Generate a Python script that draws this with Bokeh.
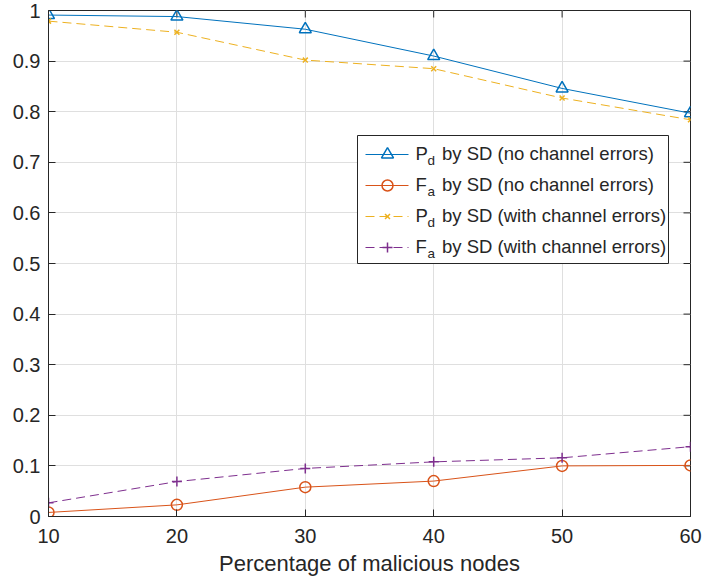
from bokeh.plotting import figure
from bokeh.models import Range1d, FixedTicker, Label
from bokeh.embed import file_html
from bokeh.resources import INLINE

# ---- data ----
x_pct = [10, 20, 30, 40, 50, 60]
pd_no_err = [0.991, 0.988, 0.963, 0.910, 0.846, 0.797]
fa_no_err = [0.008, 0.023, 0.058, 0.070, 0.100, 0.101]
pd_with_err = [0.979, 0.957, 0.902, 0.885, 0.827, 0.784]
fa_with_err = [0.027, 0.069, 0.095, 0.108, 0.116, 0.138]

x_ticks = [10, 20, 30, 40, 50, 60]
y_ticks = [0, 0.1, 0.2, 0.3, 0.4, 0.5, 0.6, 0.7, 0.8, 0.9, 1.0]
y_tick_labels = ["0", "0.1", "0.2", "0.3", "0.4", "0.5", "0.6", "0.7", "0.8", "0.9", "1"]
x_label = "Percentage of malicious nodes"

legend_main = ["P", "F", "P", "F"]
legend_sub = ["d", "a", "d", "a"]
legend_rest = ["by SD (no channel errors)", "by SD (no channel errors)",
               "by SD (with channel errors)", "by SD (with channel errors)"]

# ---- styling ----
FONT = "Liberation Sans"
TXT = "#262626"
BLUE, ORANGE, YELLOW, PURPLE = "#0072BD", "#D95319", "#EDB120", "#7E2F8E"

W, H = 702, 581
L, R, T, B = 48, 690, 10, 516  # frame edges in pixels
TICK = 7

p = figure(width=W, height=H, output_backend="svg", toolbar_location=None,
           x_range=Range1d(10, 60), y_range=Range1d(0, 1),
           min_border_left=L, min_border_right=W - R,
           min_border_top=T, min_border_bottom=H - B)
p.background_fill_color = "white"
p.border_fill_color = "white"
p.outline_line_color = TXT
p.outline_line_width = 1

xt = FixedTicker(ticks=x_ticks)
yt = FixedTicker(ticks=y_ticks)

p.xaxis.ticker = xt
p.yaxis.ticker = yt
p.yaxis.major_label_overrides = {t: s for t, s in zip(y_ticks, y_tick_labels)}
p.xaxis.major_label_overrides = {t: str(t) for t in x_ticks}

for ax in [p.xaxis[0], p.yaxis[0]]:
    ax.axis_line_color = TXT
    ax.major_tick_line_color = TXT
    ax.major_tick_in = TICK
    ax.major_tick_out = 0
    ax.minor_tick_line_color = None
    ax.major_label_text_font = FONT
    ax.major_label_text_font_size = "20px"
    ax.major_label_text_color = TXT

p.yaxis.major_label_standoff = 8
p.xaxis.major_label_standoff = 12
p.xaxis.axis_label = x_label
p.xaxis.axis_label_text_font = FONT
p.xaxis.axis_label_text_font_size = "22px"
p.xaxis.axis_label_text_font_style = "normal"
p.xaxis.axis_label_text_color = TXT
p.xaxis.axis_label_standoff = 5

p.xgrid.ticker = xt
p.ygrid.ticker = yt
p.grid.grid_line_color = "#dfdfdf"
p.grid.grid_line_width = 1

# top / right inward tick marks (box on)
tx = 50.0 / (R - L) * TICK
ty = 1.0 / (B - T) * TICK
p.segment(x0=x_ticks, y0=[1.0] * len(x_ticks), x1=x_ticks, y1=[1.0 - ty] * len(x_ticks),
          line_color=TXT, line_width=1)
p.segment(x0=[60.0] * len(y_ticks), y0=y_ticks, x1=[60.0 - tx] * len(y_ticks), y1=y_ticks,
          line_color=TXT, line_width=1)

# ---- series ----
p.line(x_pct, pd_no_err, line_color=BLUE, line_width=1)
p.scatter(x_pct, pd_no_err, marker="triangle", size=12, fill_color=None,
          line_color=BLUE, line_width=1.5)

p.line(x_pct, fa_no_err, line_color=ORANGE, line_width=1)
p.scatter(x_pct, fa_no_err, marker="circle", size=11, fill_color=None,
          line_color=ORANGE, line_width=1.5)

p.line(x_pct, pd_with_err, line_color=YELLOW, line_width=1, line_dash="9 5")
p.scatter(x_pct, pd_with_err, marker="x", size=7, line_color=YELLOW, line_width=1.5)

p.line(x_pct, fa_with_err, line_color=PURPLE, line_width=1, line_dash="9 5")
p.scatter(x_pct, fa_with_err, marker="cross", size=10, line_color=PURPLE, line_width=1.5)

# ---- manual legend (pixel layout converted to data space) ----
def dx(px):
    return 10 + (px - L) * 50.0 / (R - L)

def dy(py):
    return (B - py) / float(B - T)

lg_left, lg_right, lg_top, lg_bot = 357, 668, 135, 263
p.quad(left=[dx(lg_left)], right=[dx(lg_right)], top=[dy(lg_top)], bottom=[dy(lg_bot)],
       fill_color="white", line_color=TXT, line_width=1)

styles = [
    (BLUE, "solid", "triangle", 12),
    (ORANGE, "solid", "circle", 11),
    (YELLOW, "9 5", "x", 7),
    (PURPLE, "9 5", "cross", 10),
]
for i, (col, dash, mk, sz) in enumerate(styles):
    cy = 154 + 31 * i
    p.line([dx(365), dx(408)], [dy(cy), dy(cy)], line_color=col, line_width=1,
           line_dash=dash)
    p.scatter([dx(387)], [dy(cy)], marker=mk, size=sz, fill_color=None,
              line_color=col, line_width=1.5)
    p.add_layout(Label(x=dx(415), y=dy(cy - 1), text=legend_main[i],
                       text_font=FONT, text_font_size="18.5px", text_color=TXT,
                       text_baseline="middle", text_align="left"))
    p.add_layout(Label(x=dx(427), y=dy(cy + 6.3), text=legend_sub[i],
                       text_font=FONT, text_font_size="13.5px", text_color=TXT,
                       text_baseline="middle", text_align="left"))
    p.add_layout(Label(x=dx(441.5), y=dy(cy - 1), text=legend_rest[i],
                       text_font=FONT, text_font_size="18.5px", text_color=TXT,
                       text_baseline="middle", text_align="left"))

open("out.html", "w").write(file_html(p, INLINE))
